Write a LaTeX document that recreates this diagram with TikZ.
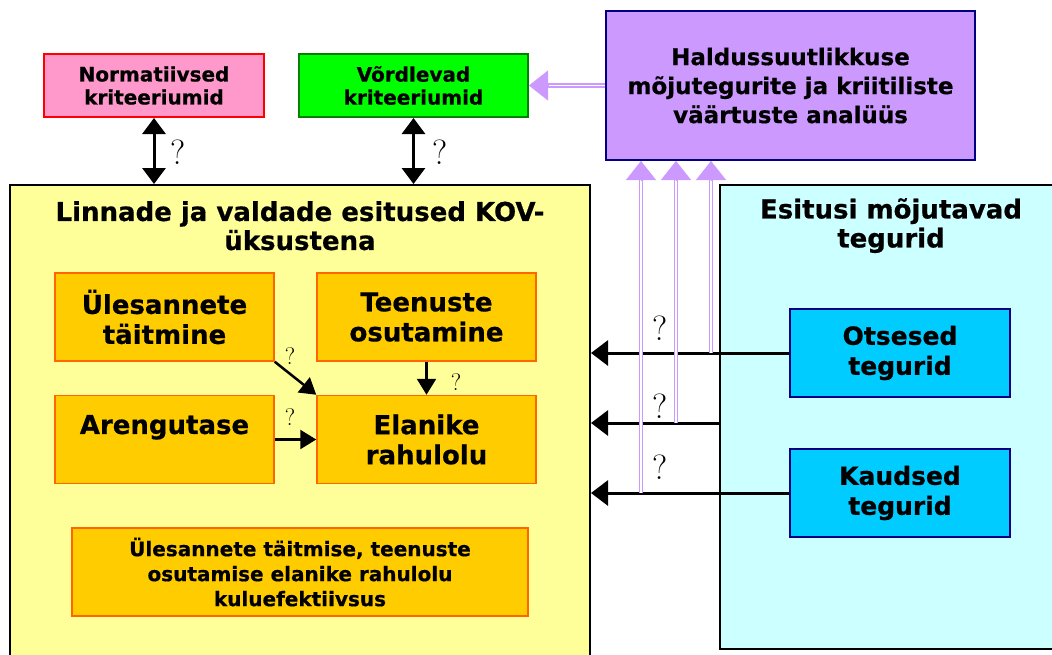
\documentclass[tikz,border=0pt]{standalone}
\usepackage{fontspec}
\newfontfamily\vfont{DejaVu Sans}[BoldFeatures={FakeBold=0.6}]
\usetikzlibrary{arrows.meta,calc}

\definecolor{pinkfill}{HTML}{FF99CC}
\definecolor{greenfill}{HTML}{00FF00}
\definecolor{greenline}{HTML}{008000}
\definecolor{lilac}{HTML}{CC99FF}
\definecolor{navyline}{HTML}{000080}
\definecolor{kovfill}{HTML}{FFFF99}
\definecolor{orangefill}{HTML}{FFCC00}
\definecolor{orangeline}{HTML}{FF6600}
\definecolor{esitfill}{HTML}{CCFFFF}
\definecolor{tegfill}{HTML}{00CCFF}

\begin{document}
\begin{tikzpicture}[x=1pt,y=-1pt,
    box/.style={draw, rectangle, line width=2pt, inner sep=0pt, align=center},
    critbox/.style={box, minimum width=#1, minimum height=63pt,
      font=\vfont\bfseries\fontsize{20}{23}\selectfont},
    orangebox/.style={box, draw=orangeline, fill=orangefill, line width=1.5pt,
      minimum width=219pt, minimum height=88pt,
      font=\vfont\bfseries\fontsize{26}{30}\selectfont},
    tegbox/.style={box, draw=navyline, fill=tegfill, minimum width=220pt, minimum height=88pt,
      font=\vfont\bfseries\fontsize{25}{30}\selectfont},
    titletext/.style={inner sep=0pt, align=center, font=\vfont\bfseries\fontsize{26}{29}\selectfont},
    blk/.style={line width=3pt, -{Triangle[width=25pt,length=17pt]}},
    blkboth/.style={line width=3pt, {Triangle[width=23pt,length=16pt]}-{Triangle[width=23pt,length=16pt]}},
    blksmall/.style={line width=2.5pt, -{Triangle[width=19pt,length=16pt]}},
    pline/.style={draw=lilac, line width=1.5pt, double=white, double distance=1.8pt},
    phead/.style={draw=lilac, line width=0.2pt, -{Triangle[width=30pt,length=19pt]}},
    qbig/.style={inner sep=0pt, font=\fontsize{35}{35}\selectfont},
    qsmall/.style={inner sep=0pt, font=\fontsize{24}{24}\selectfont}]
  \useasboundingbox (0,0) rectangle (1052,654);

  % boxes
  \node [critbox=220pt, draw=red, fill=pinkfill] (norm) at (154,85.5) {Normatiivsed\\kriteeriumid};
  \node [critbox=229pt, draw=greenline, fill=greenfill] (vord) at (413.5,85.5) {Võrdlevad\\kriteeriumid};
  \node [box, draw=navyline, fill=lilac, minimum width=369pt, minimum height=149pt,
    font=\vfont\bfseries\fontsize{23}{29}\selectfont] (hald) at (790.5,85.5)
    {Haldussuutlikkuse\\mõjutegurite ja kriitiliste\\väärtuste analüüs};
  \node [box, fill=kovfill, minimum width=580pt, minimum height=495pt] (kov) at (300,432.5) {};
  \node [titletext, anchor=north] (kovt) at ($(kov.north)+(0,17)$) {Linnade ja valdade esitused KOV-\\üksustena};
  \node [box, fill=esitfill, minimum width=350pt, minimum height=464pt] (esit) at (895,417) {};
  \node [titletext, anchor=north] (esitt) at ($(esit.north)+(-4,14)$) {Esitusi mõjutavad\\tegurid};

  \node [orangebox] (yl) at (164.5,317) {Ülesannete\\täitmine};
  \node [orangebox] (teen) at (426.5,317) {Teenuste\\osutamine};
  \node [orangebox] (aren) at (164.5,439.5) {Arengutase\\~};
  \node [orangebox] (elan) at (426.5,439.5) {Elanike\\rahulolu};
  \node [orangebox, minimum width=456pt, font=\vfont\bfseries\fontsize{20}{25}\selectfont] (kulu) at (300,572)
    {Ülesannete täitmise, teenuste\\osutamise elanike rahulolu\\kuluefektiivsus};

  \node [tegbox] (ots) at (900,353) {Otsesed\\tegurid};
  \node [tegbox] (kaud) at (900,493) {Kaudsed\\tegurid};

  % arrows
  \draw [blkboth] (norm.south) -- (norm.south |- kov.north);
  \draw [blkboth] (vord.south) -- (vord.south |- kov.north);
  \draw [blksmall] (yl.south east) -- (elan.north west);
  \draw [blksmall] (teen.south) -- (elan.north);
  \draw [blksmall] (aren.east) -- (elan.west);

  \draw [blk] (ots.west) -- (ots.west -| kov.east);
  \coordinate (mid) at ($(ots.west)!.5!(kaud.west)$);
  \draw [blk] (mid -| esit.west) -- (mid -| kov.east);
  \draw [blk] (kaud.west) -- (kaud.west -| kov.east);

  \coordinate (u1) at ($(hald.south west)+(36,0)$);
  \coordinate (u2) at ($(hald.south west)+(71,0)$);
  \coordinate (u3) at ($(hald.south west)+(106,0)$);
  \draw [pline, shorten >=18pt] (u1 |- kaud.west) -- (u1);
  \draw [pline, shorten >=18pt] (u2 |- mid) -- (u2);
  \draw [pline, shorten >=18pt] (u3 |- ots.west) -- (u3);
  \draw [pline, shorten >=18pt] (hald.west) -- (vord.east);
  \draw [phead] ($(u1)+(0,19)$) -- (u1);
  \draw [phead] ($(u2)+(0,19)$) -- (u2);
  \draw [phead] ($(u3)+(0,19)$) -- (u3);
  \draw [phead] ($(vord.east)+(19,0)$) -- (vord.east);

  % question marks
  \node [qbig] (q1) at (178,152) {?};
  \node [qbig] (q2) at (440,152) {?};
  \node [qbig] (q3) at (660,328) {?};
  \node [qbig] (q4) at (660,406) {?};
  \node [qbig] (q5) at (660,467) {?};
  \node [qsmall] (q6) at (290,356) {?};
  \node [qsmall] (q7) at (290,417) {?};
  \node [qsmall] (q8) at (456,382) {?};
\end{tikzpicture}
\end{document}
